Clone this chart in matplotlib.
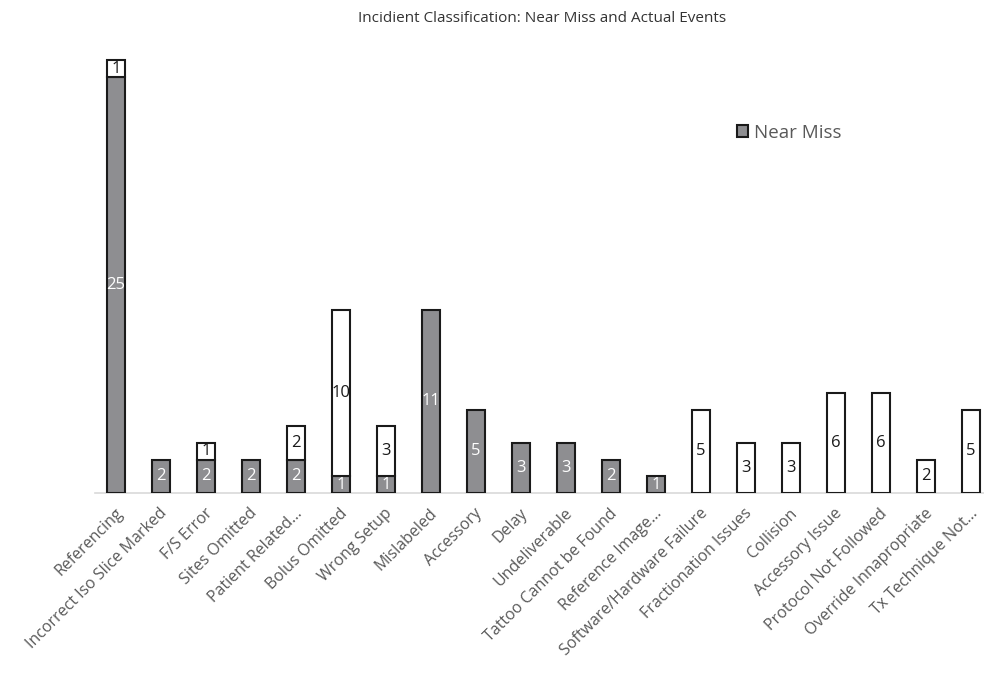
import matplotlib
matplotlib.use("Agg")
import matplotlib.pyplot as plt
import matplotlib.transforms as mtransforms
import numpy as np

categories = ["Referencing", "Incorrect Iso Slice Marked", "F/S Error", "Sites Omitted",
              "Patient Related...", "Bolus Omitted", "Wrong Setup", "Mislabeled",
              "Accessory", "Delay", "Undeliverable", "Tattoo Cannot be Found",
              "Reference Image...", "Software/Hardware Failure", "Fractionation Issues",
              "Collision", "Accessory Issue", "Protocol Not Followed",
              "Override Innapropriate", "Tx Technique Not..."]
near_miss = [25, 2, 2, 2, 2, 1, 1, 11, 5, 3, 3, 2, 1, 0, 0, 0, 0, 0, 0, 0]
actual = [1, 0, 1, 0, 2, 10, 3, 0, 0, 0, 0, 0, 0, 5, 3, 3, 6, 6, 2, 5]

plt.rcParams['font.family'] = ['Open Sans', 'DejaVu Sans']

W, H = 984, 674
fig = plt.figure(figsize=(W / 100, H / 100), dpi=100)
# axes placed in pixel terms: baseline at y=493, left edge 95, right edge 984
ax = fig.add_axes([95 / W, 1 - 493 / H, (984 - 95) / W, (493 - 50) / H])

x = np.arange(len(categories))
width = 0.38
gray = "#8e8e91"
b1 = ax.bar(x, near_miss, width, color=gray, edgecolor="#1a1a1a", linewidth=1.5,
            label="Near Miss", zorder=3)
b2 = ax.bar(x, actual, width, bottom=near_miss, color="white", edgecolor="#1a1a1a",
            linewidth=1.5, zorder=3)
# hide outlines of empty segments
for bars, vals in ((b1, near_miss), (b2, actual)):
    for rect, v in zip(bars, vals):
        if v == 0:
            rect.set_visible(False)

for i, (n, a) in enumerate(zip(near_miss, actual)):
    if n:
        ax.text(i, n / 2, str(n), ha="center", va="center", color="white",
                fontsize=12, zorder=4)
    if a:
        ax.text(i, n + a / 2, str(a), ha="center", va="center", color="#1a1a1a",
                fontsize=12, zorder=4)

ax.set_xlim(-0.467, 19.29)
ax.set_ylim(0, 443 / 16.64)
ax.set_xticks(x)
ax.set_xticklabels(categories, rotation=45, ha="right", va="center",
                   rotation_mode="anchor", fontsize=11.5, color="#595959")
ax.tick_params(axis="x", length=0, pad=13)
shift = mtransforms.ScaledTranslation(4 / 100, 0, fig.dpi_scale_trans)
for lbl in ax.get_xticklabels():
    lbl.set_transform(lbl.get_transform() + shift)
ax.set_yticks([])
for side in ("top", "right", "left"):
    ax.spines[side].set_visible(False)
ax.spines["bottom"].set_color("#d9d9d9")
ax.spines["bottom"].set_linewidth(1.2)

fig.text(542 / W, 1 - 19 / H, "Incidient Classification: Near Miss and Actual Events",
         ha="center", va="center", fontsize=11, color="#333333")

leg = ax.legend(loc="center left", bbox_to_anchor=(720 / W, 1 - 133 / H),
                bbox_transform=fig.transFigure, frameon=False, fontsize=13.5,
                handlelength=0.6, handleheight=0.6, handletextpad=0.3)
for t in leg.get_texts():
    t.set_color("#595959")

fig.savefig("out.png", dpi=100)
